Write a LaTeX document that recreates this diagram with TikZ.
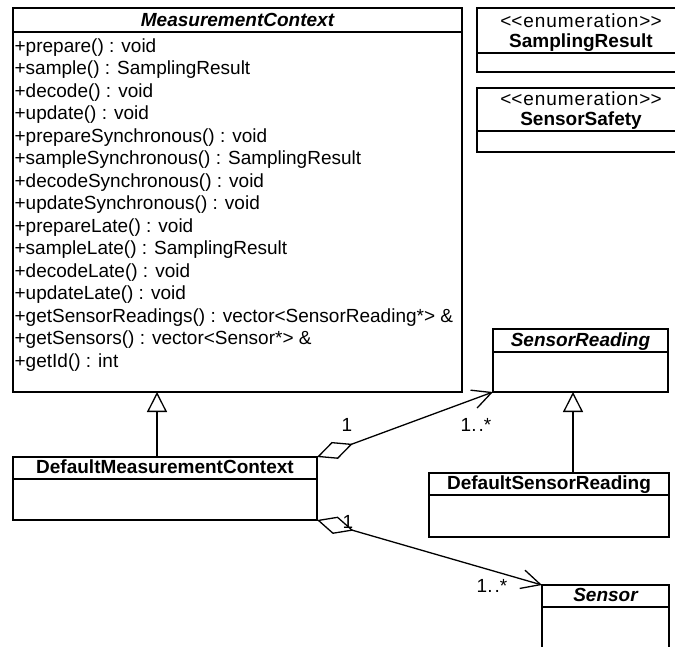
\documentclass[tikz,border=0pt]{standalone}
\usepackage{fontspec}
\setmainfont{Liberation Sans}
\usetikzlibrary{arrows.meta}

\begin{document}
\begin{tikzpicture}[x=1pt, y=-1pt, line width=1.3pt,
  every node/.style={font=\fontsize{19}{22.5}\selectfont},
  classbox/.style={draw, rectangle, inner sep=0pt, outer sep=0pt, anchor=north west},
  title/.style={anchor=base, inner sep=0pt, font=\fontsize{19}{22.5}\selectfont\bfseries},
  abstitle/.style={title, font=\fontsize{19}{22.5}\selectfont\bfseries\itshape},
  stereo/.style={anchor=base, inner sep=0pt, font=\fontsize{19}{22.5}\selectfont\addfontfeature{LetterSpace=5}},
  member/.style={anchor=base west, inner sep=0pt},
  mult/.style={inner sep=0pt},
  generalize/.style={-{Triangle[length=20pt, width=20pt, fill=white]}},
  aggregate/.style={{Diamond[length=38pt, width=18pt, fill=white]}-{Straight Barb[length=19pt, width=19pt]}}
]
\useasboundingbox (0,0) rectangle (675,646);
\clip (0,0) rectangle (675,646);

% MeasurementContext
\node[classbox, minimum width=449pt, minimum height=384pt] (mc) at (13,8) {};
\draw ([yshift=-24pt]mc.north west) -- ([yshift=-24pt]mc.north east);
\node[abstitle] (mct) at (237.5,26) {MeasurementContext};
\foreach \t [count=\i from 0] in {%
  +prepare() : void,
  +sample() : SamplingResult,
  +decode() : void,
  +update() : void,
  +prepareSynchronous() : void,
  +sampleSynchronous() : SamplingResult,
  +decodeSynchronous() : void,
  +updateSynchronous() : void,
  +prepareLate() : void,
  +sampleLate() : SamplingResult,
  +decodeLate() : void,
  +updateLate() : void,
  +getSensorReadings() : vector<SensorReading*> \&,
  +getSensors() : vector<Sensor*> \&,
  +getId() : int}
  \node[member] (m\i) at (14, 52+22.5*\i) {\t};

% enumerations
\node[classbox, minimum width=208pt, minimum height=64pt] (en1) at (477,8) {};
\draw ([yshift=-45pt]en1.north west) -- ([yshift=-45pt]en1.north east);
\node[stereo] (en1s) at (581,27) {<\kern0pt<enumeration>\kern0pt>};
\node[title] (en1t) at (581,47) {SamplingResult};

\node[classbox, minimum width=208pt, minimum height=64pt] (en2) at (477,88) {};
\draw ([yshift=-43pt]en2.north west) -- ([yshift=-43pt]en2.north east);
\node[stereo] (en2s) at (581,105) {<\kern0pt<enumeration>\kern0pt>};
\node[title] (en2t) at (581,125) {SensorSafety};

% SensorReading
\node[classbox, minimum width=175pt, minimum height=63pt] (sr) at (493,329) {};
\draw ([yshift=-23pt]sr.north west) -- ([yshift=-23pt]sr.north east);
\node[abstitle] (srt) at (580.5,346) {SensorReading};

% DefaultMeasurementContext
\node[classbox, minimum width=304pt, minimum height=63pt] (dmc) at (13,457) {};
\draw ([yshift=-22pt]dmc.north west) -- ([yshift=-22pt]dmc.north east);
\node[title] (dmct) at (165,473) {DefaultMeasurementContext};

% DefaultSensorReading
\node[classbox, minimum width=240pt, minimum height=64pt] (dsr) at (429,473) {};
\draw ([yshift=-22pt]dsr.north west) -- ([yshift=-22pt]dsr.north east);
\node[title] (dsrt) at (549,489) {DefaultSensorReading};

% Sensor
\node[classbox, minimum width=127pt, minimum height=100pt] (sen) at (542,585) {};
\draw ([yshift=-22pt]sen.north west) -- ([yshift=-22pt]sen.north east);
\node[abstitle] (sent) at (605.5,601) {Sensor};

% generalizations
\draw[generalize] ([xshift=-8pt]dmc.north) -- ([xshift=-8pt]dmc.north |- mc.south);
\draw[generalize] ([xshift=24pt]dsr.north) -- ([xshift=24pt]dsr.north |- sr.south);

% aggregations
\draw[aggregate] (dmc.north east) -- (sr.south west);
\draw[aggregate] (dmc.south east) -- (sen.north west);

% multiplicities
\node[mult] (r1) at (347,425) {1};
\node[mult] (r2) at (476,425) {1.\kern2pt.*};
\node[mult] (s1) at (348,522) {1};
\node[mult] (s2) at (492,586) {1.\kern2pt.*};
\end{tikzpicture}
\end{document}
